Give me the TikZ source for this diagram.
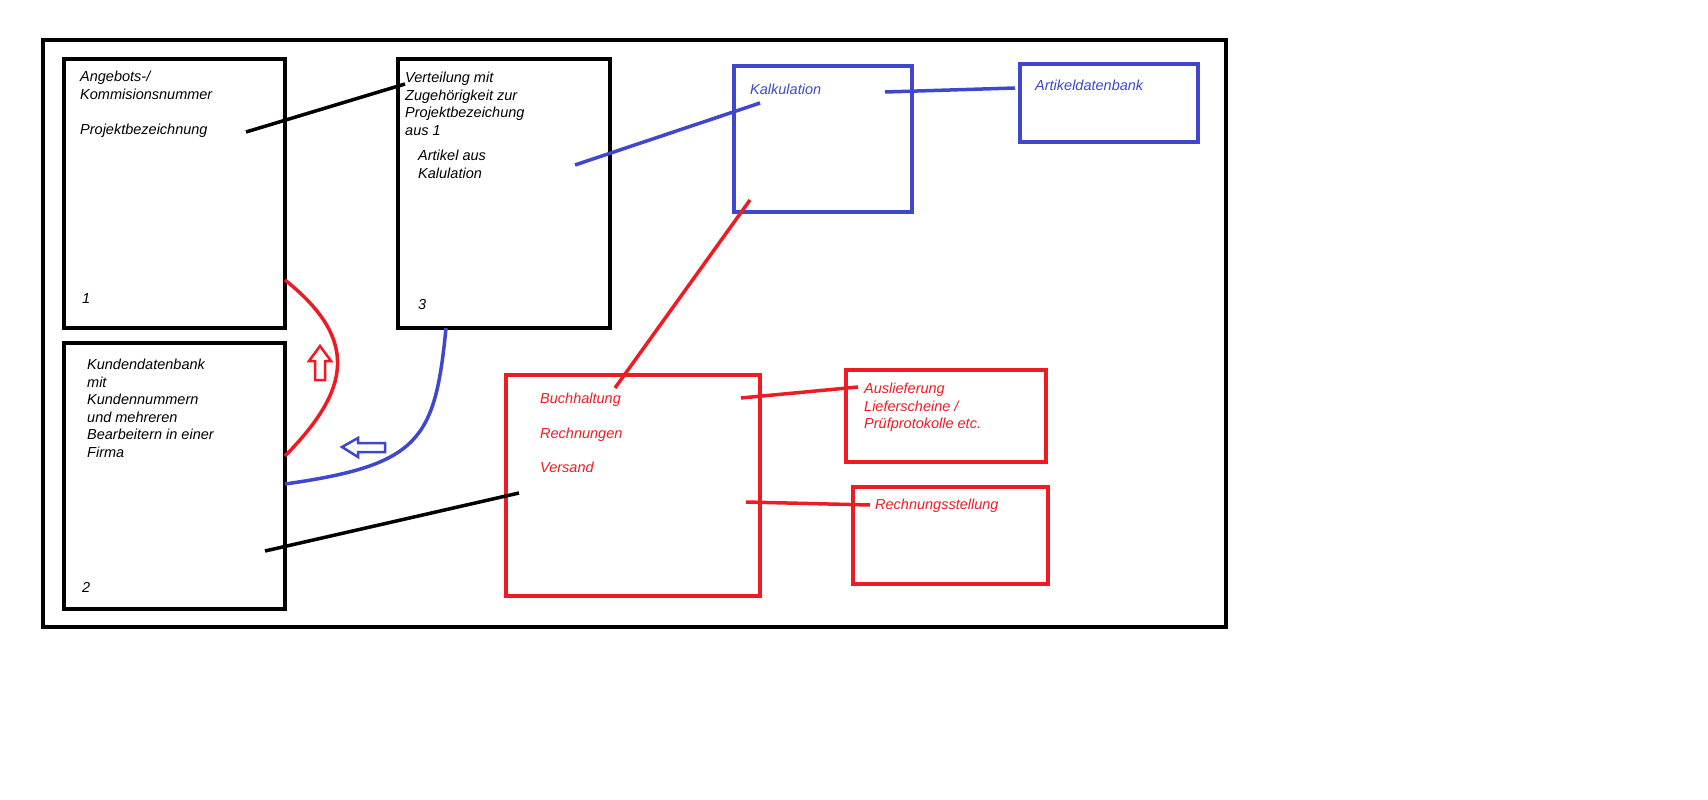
\documentclass[tikz,border=0pt]{standalone}
\usepackage{fontspec}
\setmainfont{Liberation Sans}
\usetikzlibrary{calc}
\definecolor{pblue}{RGB}{63,72,204}
\definecolor{pred}{RGB}{237,28,36}
\tikzset{
  box/.style={draw, line width=4pt},
  txt/.style={anchor=north west, inner sep=0pt, align=left, font=\fontsize{14.5}{17.5}\selectfont\itshape},
  link/.style={line width=3.5pt},
  hollow/.style={line width=2.5pt, draw=#1, fill=white, line join=miter}
}
\begin{document}
\begin{tikzpicture}[x=1pt,y=-1pt]
  \useasboundingbox (0,0) rectangle (1708,800);
  % frames
  \draw[box] (43,40) rectangle (1226,627);
  \draw[box] (64,59) rectangle (285,328);
  \draw[box] (64,343) rectangle (285,609);
  \draw[box] (398,59) rectangle (610,328);
  \draw[box, pblue] (734,66) rectangle (912,212);
  \draw[box, pblue] (1020,64) rectangle (1198,142);
  \draw[box, pred] (506,375) rectangle (760,596);
  \draw[box, pred] (846,370) rectangle (1046,462);
  \draw[box, pred] (853,487) rectangle (1048,584);
  % texts
  \node[txt] (angebot) at (80,71) {Angebots-/\\Kommisionsnummer\\[17.5pt]Projektbezeichnung};
  \node[txt] (n1) at (82,293) {1};
  \node[txt] (kunden) at (87,359) {Kundendatenbank\\mit\\Kundennummern\\und mehreren\\Bearbeitern in einer\\Firma};
  \node[txt] (n2) at (82,582) {2};
  \node[txt] (verteil) at (405,72) {Verteilung mit\\Zugehörigkeit zur\\Projektbezeichung\\aus 1};
  \node[txt] (artikel) at (418,150) {Artikel aus\\Kalulation};
  \node[txt] (n3) at (418,299) {3};
  \node[txt, pblue] (kalk) at (750,84) {Kalkulation};
  \node[txt, pblue] (artdb) at (1035,80) {Artikeldatenbank};
  \node[txt, pred] (buch) at (540,393) {Buchhaltung\\[17pt]Rechnungen\\[17pt]Versand};
  \node[txt, pred] (ausl) at (864,383) {Auslieferung\\Lieferscheine /\\Prüfprotokolle etc.};
  \node[txt, pred] (rechst) at (875,499) {Rechnungsstellung};
  % connector ends
  \coordinate (a1) at (246,132); \coordinate (a2) at (405,84);
  \coordinate (b1) at (575,165); \coordinate (b2) at (760,103);
  \coordinate (c1) at (885,92);  \coordinate (c2) at (1015,88);
  \coordinate (d1) at (750,200); \coordinate (d2) at (615,388);
  \coordinate (e1) at (285,280); \coordinate (e2) at (285,456);
  \coordinate (f1) at (446,328); \coordinate (f2) at (285,484);
  \coordinate (g1) at (265,551); \coordinate (g2) at (519,493);
  \coordinate (h1) at (741,398); \coordinate (h2) at (858,387);
  \coordinate (i1) at (746,502); \coordinate (i2) at (870,505);
  % connectors
  \draw[link] (a1) -- (a2);
  \draw[link, pblue] (b1) -- (b2);
  \draw[link, pblue] (c1) -- (c2);
  \draw[link, pred] (d1) -- (d2);
  \draw[link, pred] (e1) .. controls (360,340) and (350,390) .. (e2);
  \draw[link, pblue] (f1) .. controls (435,440) and (420,465) .. (f2);
  \draw[link] (g1) -- (g2);
  \draw[link, pred] (h1) -- (h2);
  \draw[link, pred] (i1) -- (i2);
  % hollow arrows
  \draw[hollow=pred] (320,346) -- (331,361) -- (325,361) -- (325,380) -- (315,380) -- (315,361) -- (309,361) -- cycle;
  \draw[hollow=pblue] (342,447) -- (358,438) -- (358,443) -- (385,443) -- (385,452) -- (358,452) -- (358,457) -- cycle;
\end{tikzpicture}
\end{document}
